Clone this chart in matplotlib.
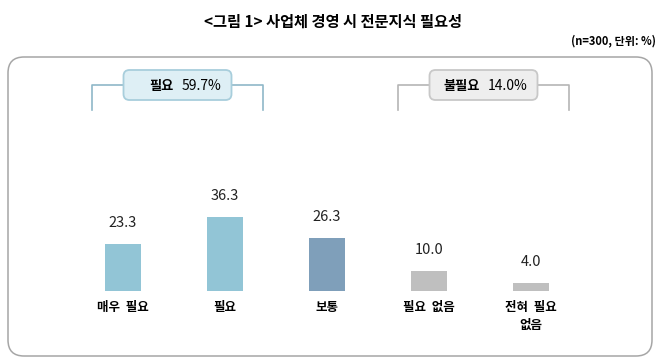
import matplotlib.pyplot as plt
from matplotlib.patches import FancyBboxPatch

plt.rcParams['font.family'] = ['Noto Sans CJK KR', 'DejaVu Sans']

categories = ['매우  필요', '필요', '보통', '필요  없음', '전혀  필요\n없음']
values = [23.3, 36.3, 26.3, 10.0, 4.0]
colors = ['#92c5d6', '#92c5d6', '#7f9fba', '#bfbfbf', '#bfbfbf']
group_names = ['필요', '불필요']
group_totals = ['59.7%', '14.0%']
group_span = [(0, 1), (3, 4)]

W, H = 666, 362
fig = plt.figure(figsize=(W / 100, H / 100), dpi=100)

# overlay in pixel coordinates for frame, title and brackets
deco = fig.add_axes([0, 0, 1, 1])
deco.set_xlim(0, W)
deco.set_ylim(H, 0)
deco.axis('off')

deco.text(333, 22, '<그림 1> 사업체 경영 시 전문지식 필요성', ha='center', va='center',
          fontsize=11, fontweight='bold')
deco.text(656, 41, '(n=300, 단위: %)', ha='right', va='center', fontsize=8, fontweight='bold')

frame = FancyBboxPatch((8, 57), 644, 299, boxstyle='round,pad=0,rounding_size=16',
                       fc='white', ec='#a6a6a6', lw=1.1)
deco.add_patch(frame)

# bar axes: category i at pixel 123 + 102*i, baseline at y=291
left, right = 72, 582
base, ppu = 291, 2.03
ax = fig.add_axes([left / W, (H - base) / H, (right - left) / W, 40 * ppu / H])
ax.set_xlim(-0.5, 4.5)
ax.set_ylim(0, 40)
ax.axis('off')
x = range(len(values))
ax.bar(x, values, width=0.35, color=colors)
for i, v in enumerate(values):
    ax.annotate(f'{v:.1f}', (i, v), xytext=(0, 10), textcoords='offset points',
                ha='center', va='bottom', fontsize=10.5, color='#222222')
    ax.annotate(categories[i], (i, 0), xytext=(0, -7), textcoords='offset points',
                ha='center', va='top', fontsize=9, fontweight='bold', linespacing=1.5)

# group brackets
styles = [('#8fb8c8', '#deeff5', '#a8cedc'), ('#b5b5b5', '#eeeeee', '#c8c8c8')]
for name, total, (a, b), (lc, fc, ec) in zip(group_names, group_totals, group_span, styles):
    xa, xb = 123 + 102 * a - 31, 123 + 102 * b + 38
    xc = (xa + xb) / 2
    deco.plot([xa, xa, xb, xb], [110, 85, 85, 110], color=lc, lw=1.2)
    box = FancyBboxPatch((xc - 54, 70), 108, 30, boxstyle='round,pad=0,rounding_size=6',
                         fc=fc, ec=ec, lw=1.3, zorder=3)
    deco.add_patch(box)
    deco.text(xc - 4, 86, name, ha='right', va='center', fontsize=9.5,
              fontweight='bold', zorder=4)
    deco.text(xc + 4, 86, total, ha='left', va='center', fontsize=10, zorder=4)

fig.savefig('out.png', dpi=100)
